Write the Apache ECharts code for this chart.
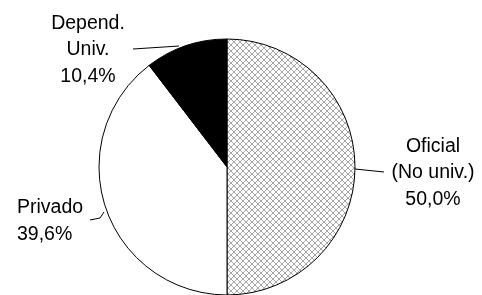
<!DOCTYPE html>
<html>
<head>
<meta charset="utf-8">
<script src="https://cdn.jsdelivr.net/npm/echarts@6/dist/echarts.min.js"></script>
<style>
  html, body { margin: 0; padding: 0; background: #fff; }
  #chart { width: 482px; height: 295px; }
</style>
</head>
<body>
<div id="chart"></div>
<script>
const categories = ["Oficial\n(No univ.)", "Privado", "Depend.\nUniv."];
const shares = [50.0, 39.6, 10.4];

// label anchor and leader line, per slice
const labelPos = [
  { x: 433, y: 173, align: "center", line: [[355, 169], [384, 172]] },
  { x: 17, y: 221, align: "left", line: [[104, 212], [100, 218], [90, 220]] },
  { x: 88, y: 50, align: "center", line: [[179, 46], [133, 49]] }
];

// grey cross-hatch for the "Oficial" slice
function hatch() {
  const c = document.createElement("canvas");
  c.width = 6; c.height = 6;
  const g = c.getContext("2d");
  g.fillStyle = "#fff";
  g.fillRect(0, 0, 6, 6);
  g.strokeStyle = "#a6a6a6";
  g.lineWidth = 1;
  g.beginPath();
  g.moveTo(0, 0); g.lineTo(6, 6);
  g.moveTo(6, 0); g.lineTo(0, 6);
  g.stroke();
  return c;
}

const fills = [{ image: hatch(), repeat: "repeat" }, "#fff", "#000"];

const chart = echarts.init(document.getElementById("chart"));

chart.setOption({
  animation: false,
  series: [
    {
      type: "pie",
      center: [227, 167],
      radius: 128,
      startAngle: 90,
      clockwise: true,
      silent: true,
      itemStyle: { borderColor: "#000", borderWidth: 1 },
      label: {
        show: true,
        position: "outside",
        overflow: "none",
        color: "#000",
        fontFamily: "Liberation Sans, Arial, sans-serif",
        fontSize: 19.5,
        lineHeight: 26.5,
        formatter: (p) => p.name + "\n" + p.value.toFixed(1).replace(".", ",") + "%"
      },
      labelLine: { show: true, lineStyle: { color: "#000", width: 1 } },
      labelLayout: (params) => {
        const lp = labelPos[params.dataIndex];
        return {
          x: lp.x,
          y: lp.y,
          align: lp.align,
          verticalAlign: "middle",
          labelLinePoints: lp.line
        };
      },
      data: categories.map((name, i) => ({
        name: name,
        value: shares[i],
        itemStyle: { color: fills[i] },
        label: { align: labelPos[i].align }
      }))
    }
  ]
});
</script>
</body>
</html>
